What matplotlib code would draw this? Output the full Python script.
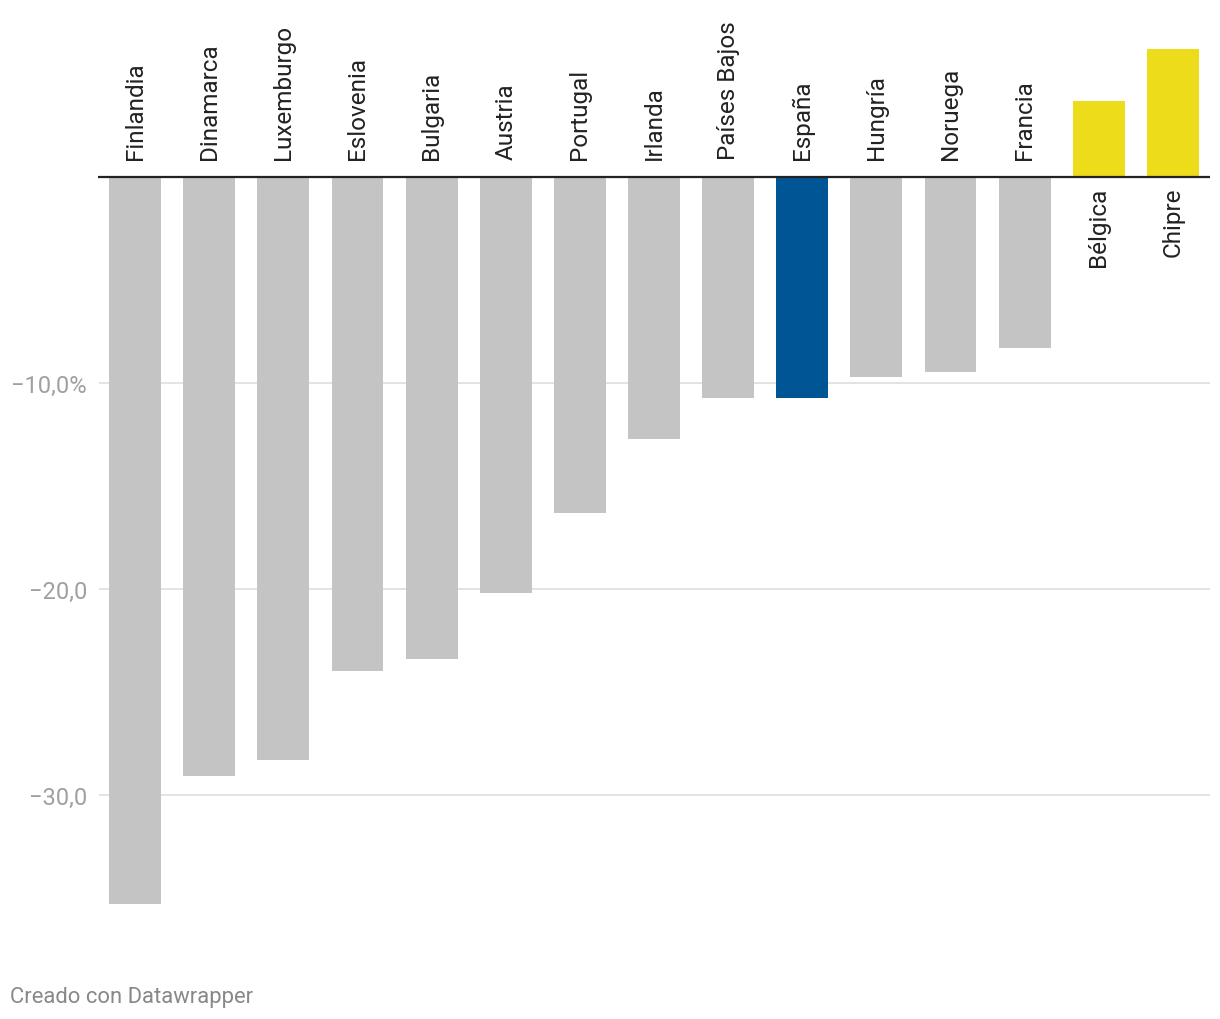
import matplotlib
matplotlib.use("Agg")
import matplotlib.pyplot as plt

plt.rcParams['font.family'] = ['Roboto', 'DejaVu Sans']

countries = ["Finlandia", "Dinamarca", "Luxemburgo", "Eslovenia", "Bulgaria", "Austria",
             "Portugal", "Irlanda", "Países Bajos", "España", "Hungría", "Noruega",
             "Francia", "Bélgica", "Chipre"]
values = [-35.3, -29.1, -28.3, -24.0, -23.4, -20.2, -16.3, -12.7, -10.75, -10.75,
          -9.7, -9.45, -8.3, 3.7, 6.2]
highlight = "España"

ytick_vals = [-10, -20, -30]
ytick_labels = ["\u221210,0%", "\u221220,0", "\u221230,0"]

GRAY = "#c4c4c4"
BLUE = "#005594"
YELLOW = "#ecdc1a"

fig = plt.figure(figsize=(12.2, 10.2), dpi=100)
W, H = 1220, 1020
left, right = 98, 1210
top_px, bot_px = 3, 940
ax = fig.add_axes([left / W, 1 - bot_px / H, (right - left) / W, (bot_px - top_px) / H])

colors = []
for c, v in zip(countries, values):
    if c == highlight:
        colors.append(BLUE)
    elif v > 0:
        colors.append(YELLOW)
    else:
        colors.append(GRAY)

x = list(range(len(countries)))
ax.bar(x, values, width=0.70, color=colors, zorder=2)

ax.set_xlim(-0.5, len(countries) - 0.5)
ax.set_ylim(-37, 8.5)

for yv in ytick_vals:
    ax.axhline(yv, color="#e0e0e0", lw=1.3, zorder=1, xmin=2 / (right - left))
ax.axhline(0, color="#222222", lw=1.6, zorder=3)

ax.set_yticks(ytick_vals)
ax.set_yticklabels(ytick_labels)
ax.tick_params(axis='y', length=0, pad=8, labelsize=17, labelcolor="#a0a0a0")
ax.set_xticks([])
for s in ax.spines.values():
    s.set_visible(False)

for xi, c, v in zip(x, countries, values):
    if v < 0:
        ax.annotate(c, (xi, 0), xytext=(0, 13), textcoords="offset points",
                    rotation=90, ha="center", va="bottom", fontsize=17.5, color="#222222")
    else:
        ax.annotate(c, (xi, 0), xytext=(0, -7), textcoords="offset points",
                    rotation=90, ha="center", va="top", fontsize=17.5, color="#222222")

fig.text(10 / W, 1 - 998 / H, "Creado con Datawrapper", fontsize=15.8, color="#888888",
         ha="left", va="center")

fig.savefig("out.png", dpi=100, facecolor="white")
